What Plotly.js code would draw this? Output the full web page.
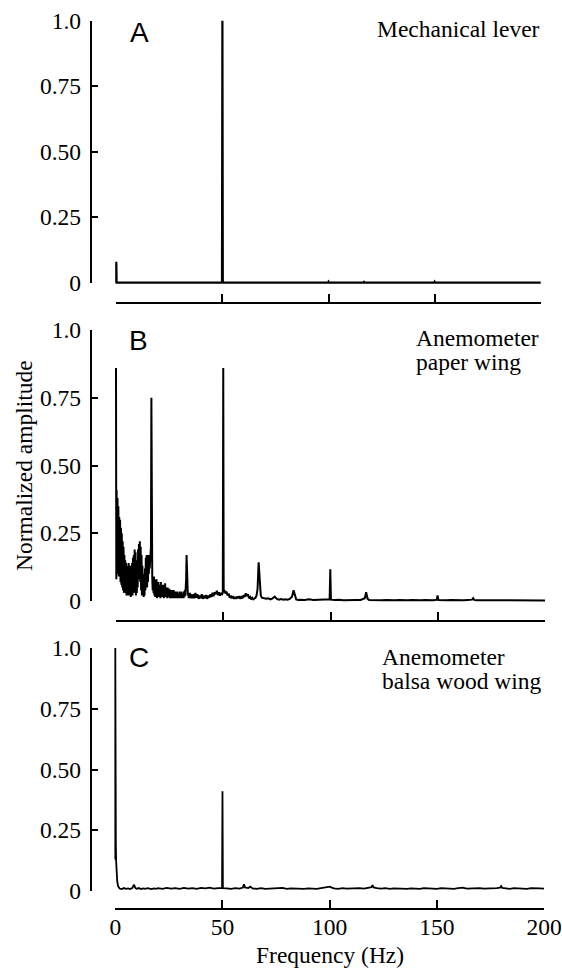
<!DOCTYPE html>
<html><head><meta charset="utf-8">
<script src="https://cdn.plot.ly/plotly-3.0.1.min.js"></script>
<style>html,body{margin:0;padding:0;background:#fff;} #chart{width:562px;height:968px;}</style>
</head><body><div id="chart"></div>
<script>
// ---------- DATA ----------
const freqA = [0, 0, 0.15, 49.8, 50, 50.2, 99.7, 100, 100.3, 116.4, 116.7, 117, 149.7, 150, 150.3, 200];
const ampA  = [0, 0.08, 0, 0, 1.0, 0, 0, 0.004, 0, 0, 0.003, 0, 0, 0.004, 0, 0];

const freqB = [
0,0.15,0.3,0.5,0.7,0.9,1.1,1.3,1.5,1.7,1.9,2.1,2.3,2.5,2.7,2.9,3.1,3.3,3.5,3.7,3.9,4.1,4.3,4.5,4.7,4.9,
5.1,5.3,5.5,5.7,5.9,6.1,6.3,6.5,6.7,6.9,7.1,7.3,7.5,7.7,7.9,8.1,8.3,8.5,8.7,8.9,9.1,9.3,9.5,9.7,9.9,
10.1,10.3,10.5,10.7,10.9,11.1,11.3,11.5,11.7,11.9,12.1,12.3,12.5,12.7,12.9,13.1,13.3,13.5,13.7,13.9,
14.1,14.3,14.5,14.7,14.9,15.1,15.3,15.5,15.7,15.9,16.1,16.3,16.5,16.7,16.9,17.1,17.3,
17.5,17.7,17.9,18.1,18.3,18.5,18.7,18.9,19.1,19.3,19.5,19.7,19.9,20.1,20.3,20.5,20.7,20.9,21.1,21.3,21.5,21.7,21.9,
22.1,22.3,22.5,22.7,22.9,23.1,23.3,23.5,23.7,23.9,24.1,24.3,24.5,24.7,24.9,25.1,25.3,25.5,25.7,25.9,
26.1,26.3,26.5,26.7,26.9,27.1,27.3,27.5,27.7,27.9,28.1,28.3,28.5,28.7,28.9,29.1,29.3,29.5,29.7,29.9,
30.1,30.3,30.5,30.7,30.9,31.1,31.3,31.5,31.7,31.9,32.1,32.3,32.5,32.7,32.9,33.1,33.3,33.5,33.7,33.9,
34.1,34.3,34.5,34.7,34.9,
35.5,36,36.5,37,37.5,38,38.5,39,39.5,40,40.5,41,41.5,42,42.5,43,43.5,44,44.5,45,45.5,46,46.5,47,47.5,48,48.5,49,49.5,
49.8,50,50.2,50.5,51,51.5,52,52.5,53,53.5,54,54.5,55,55.5,56,56.5,57,57.5,58,58.5,59,59.5,60,60.5,61,61.5,62,62.5,
63,63.5,64,64.5,65,65.5,66,66.5,67,67.5,68,
69,70,71,72,73,74,75,76,77,78,79,80,81,82,82.8,83.6,84,85,86,88,90,92,94,96,98,99.6,99.9,100.2,
102,104,106,108,110,112,114,116,116.6,117.3,118,120,122,124,126,128,130,132,134,136,138,140,142,144,146,148,
149.6,149.9,150.3,152,154,156,158,160,162,164,166,166.5,167,168,170,172,174,176,178,180,182,184,186,188,190,192,194,196,198,200];
const ampB = [
0.86,0.08,0.41,0.12,0.38,0.1,0.35,0.09,0.31,0.1,0.3,0.07,0.27,0.06,0.25,0.05,0.22,0.04,0.2,0.03,0.17,0.05,0.15,0.03,0.14,0.02,
0.13,0.04,0.12,0.02,0.14,0.03,0.11,0.02,0.13,0.015,0.12,0.03,0.14,0.02,0.16,0.04,0.17,0.03,0.19,0.06,0.18,0.02,0.12,0.03,0.15,
0.05,0.19,0.08,0.21,0.1,0.22,0.07,0.2,0.04,0.17,0.02,0.13,0.03,0.1,0.015,0.08,0.02,0.12,0.04,0.16,
0.08,0.17,0.05,0.15,0.07,0.17,0.1,0.15,0.12,0.18,0.14,0.2,0.75,0.16,0.09,0.04,0.08,
0.03,0.09,0.02,0.08,0.015,0.07,0.02,0.08,0.01,0.06,0.02,0.07,0.015,0.06,0.02,0.05,0.01,0.07,0.02,0.06,0.015,0.05,0.02,
0.06,0.01,0.05,0.02,0.065,0.015,0.05,0.02,0.045,0.01,0.05,0.015,0.04,0.02,0.045,0.01,0.04,0.015,0.035,0.01,
0.04,0.015,0.035,0.01,0.04,0.015,0.03,0.01,0.035,0.015,0.03,0.01,0.035,0.015,0.03,0.01,0.03,0.015,0.035,0.01,
0.03,0.015,0.035,0.01,0.03,0.015,0.03,0.01,0.035,0.015,0.04,0.02,0.05,0.08,0.17,0.1,0.03,0.02,0.03,0.01,
0.03,0.015,0.03,0.01,0.025,
0.01,0.025,0.01,0.03,0.012,0.025,0.008,0.02,0.01,0.025,0.008,0.02,0.01,0.022,0.008,0.02,0.012,0.025,0.015,0.03,0.018,0.032,0.025,0.038,0.022,0.032,0.02,0.03,0.025,
0.03,0.86,0.035,0.04,0.028,0.035,0.02,0.028,0.012,0.02,0.01,0.018,0.008,0.015,0.008,0.016,0.01,0.018,0.008,0.015,0.01,0.022,0.015,0.028,0.018,0.025,0.01,0.015,
0.006,0.012,0.006,0.01,0.012,0.02,0.045,0.143,0.05,0.02,0.012,
0.01,0.008,0.01,0.006,0.01,0.016,0.008,0.005,0.007,0.005,0.006,0.005,0.008,0.015,0.04,0.012,0.006,0.004,0.005,0.004,0.006,0.004,0.005,0.004,0.005,0.006,0.117,0.005,
0.004,0.005,0.003,0.004,0.003,0.004,0.004,0.01,0.032,0.008,0.004,0.003,0.004,0.003,0.004,0.003,0.003,0.004,0.003,0.003,0.004,0.003,0.003,0.004,0.003,0.003,
0.005,0.021,0.004,0.003,0.003,0.004,0.003,0.003,0.003,0.004,0.005,0.01,0.004,0.003,0.003,0.002,0.003,0.002,0.003,0.002,0.002,0.003,0.002,0.002,0.002,0.003,0.002,0.002,0.002,0.002];

const freqC = [0,0,0.12,0.25,0.4,0.6,0.9,1.3,2,3,4,5,6,7,8,8.7,9.4,10,11,12,13,14,15,16,17,18,19,20,22,24,26,28,30,32,34,36,38,40,42,44,46,48,
49.8,50,50.2,52,54,56,58,59.5,60,60.5,62,63,64,66,68,70,72,74,76,78,80,82,84,86,88,90,92,94,96,98,100,101,102,104,106,108,110,112,114,116,118,
119.5,120,120.5,122,124,126,128,130,132,134,136,138,140,142,144,146,148,150,152,154,156,158,160,162,164,166,168,170,172,174,176,178,
179.5,180,180.5,182,184,186,188,190,192,194,196,198,200];
const ampC = [0.13,1.0,0.13,0.2,0.12,0.07,0.04,0.02,0.01,0.008,0.012,0.009,0.011,0.008,0.013,0.026,0.012,0.009,0.012,0.008,0.011,0.009,0.012,0.01,0.008,0.011,0.009,0.012,0.009,0.013,0.01,0.012,0.009,0.013,0.01,0.012,0.009,0.013,0.011,0.014,0.01,0.012,
0.012,0.41,0.012,0.011,0.009,0.012,0.01,0.014,0.028,0.015,0.012,0.018,0.011,0.009,0.012,0.009,0.011,0.01,0.012,0.013,0.009,0.011,0.01,0.012,0.009,0.011,0.01,0.009,0.012,0.014,0.018,0.014,0.011,0.009,0.012,0.01,0.011,0.009,0.012,0.01,0.013,
0.016,0.024,0.015,0.012,0.01,0.012,0.009,0.011,0.01,0.012,0.009,0.011,0.01,0.009,0.012,0.01,0.011,0.009,0.012,0.01,0.011,0.009,0.012,0.014,0.01,0.011,0.009,0.012,0.01,0.011,0.009,0.012,
0.014,0.02,0.013,0.011,0.009,0.012,0.01,0.011,0.009,0.012,0.01,0.011,0.01];

const yTickVals = [0, 0.25, 0.5, 0.75, 1];
const yTickText = ['0', '0.25', '0.50', '0.75', '1.0'];
const xTickVals = [0, 50, 100, 150, 200];
const xTickText = ['0', '50', '100', '150', '200'];
const panelLetters = ['A', 'B', 'C'];
const panelNotes = [['Mechanical lever'], ['Anemometer', 'paper wing'], ['Anemometer', 'balsa wood wing']];
const yTitle = 'Normalized amplitude';
const xTitle = 'Frequency (Hz)';

// ---------- LAYOUT ----------
const W = 562, H = 968;
const SERIF = 'Liberation Serif';
const SANS = 'Liberation Sans';
const FS = 23.5;
const geo = [
  {x0:116.3, x1:540.7, yT:20.7, yB:282.7, spine:90.7, xAx:302.7, lw:2.2},
  {x0:116,   x1:545,   yT:330,  yB:601,   spine:90.7, xAx:620.7, lw:2},
  {x0:115.3, x1:544,   yT:648,  yB:891,   spine:90.7, xAx:909,   lw:1.8}
];
const series = [[freqA, ampA], [freqB, ampB], [freqC, ampC]];
const PAD = 8;
const id = (k) => (k === 1 ? '' : String(k));

const data = [];
const layout = {
  width: W, height: H,
  margin: {l:0, r:0, t:0, b:0, pad:0},
  paper_bgcolor: '#fff', plot_bgcolor: 'rgba(0,0,0,0)',
  showlegend: false,
  font: {family: SERIF, size: FS, color: '#000'},
  annotations: []
};

geo.forEach((g, i) => {
  const n = i + 1, m = i + 4;
  const kx = (g.x1 - g.x0) / 200;
  const ky = (g.yB - g.yT);
  // data axes (hidden, padded so lines at the edges are not clipped)
  layout['xaxis' + id(n)] = {
    visible: false, domain: [(g.x0 - PAD) / W, (g.x1 + PAD) / W],
    range: [-PAD / kx, 200 + PAD / kx], anchor: 'y' + id(n), fixedrange: true
  };
  layout['yaxis' + id(n)] = {
    visible: false, domain: [1 - (g.yB + PAD) / H, 1 - (g.yT - PAD) / H],
    range: [-PAD / ky, 1 + PAD / ky], anchor: 'x' + id(n), fixedrange: true
  };
  // display axes, detached from the data like in the figure
  layout['xaxis' + m] = {
    domain: [g.x0 / W, g.x1 / W], range: [0, 200], anchor: 'free', position: 1 - g.xAx / H,
    showline: true, linewidth: 2, linecolor: '#000', showgrid: false, zeroline: false,
    ticks: 'inside', ticklen: 8, tickwidth: 2, tickcolor: '#000',
    tickmode: 'array', tickvals: xTickVals, ticktext: xTickText, ticklabelstandoff: -3,
    showticklabels: i === 2, tickfont: {family: SERIF, size: FS, color: '#000'}, fixedrange: true
  };
  layout['yaxis' + m] = {
    domain: [1 - g.yB / H, 1 - g.yT / H], range: [0, 1], anchor: 'free', position: g.spine / W,
    showline: true, linewidth: 2, linecolor: '#000', showgrid: false, zeroline: false,
    ticks: 'inside', ticklen: 6, tickwidth: 2, tickcolor: '#000',
    tickmode: 'array', tickvals: yTickVals, ticktext: yTickText, ticklabelstandoff: 4,
    tickfont: {family: SERIF, size: FS, color: '#000'}, fixedrange: true
  };
  data.push({
    x: series[i][0], y: series[i][1], type: 'scatter', mode: 'lines',
    line: {color: '#000', width: g.lw}, hoverinfo: 'skip',
    xaxis: 'x' + id(n), yaxis: 'y' + id(n)
  });
  data.push({x: [], y: [], type: 'scatter', mode: 'lines', xaxis: 'x' + m, yaxis: 'y' + m, hoverinfo: 'skip'});
});

// panel letters
const letterPos = [{x:127.5, y:32}, {x:127, y:340}, {x:127, y:657}];
panelLetters.forEach((t, i) => layout.annotations.push({
  text: t, xref: 'paper', yref: 'paper', x: letterPos[i].x / W, y: 1 - letterPos[i].y / H,
  xanchor: 'left', yanchor: 'middle', showarrow: false, font: {family: SANS, size: 28, color: '#000'}
}));
// panel notes
const notePos = [
  [{x:541.5, y:29, a:'right'}],
  [{x:414, y:338, a:'left'}, {x:414, y:362, a:'left'}],
  [{x:380, y:656.5, a:'left'}, {x:380, y:680.5, a:'left'}]
];
panelNotes.forEach((lines, i) => lines.forEach((t, j) => layout.annotations.push({
  text: t, xref: 'paper', yref: 'paper', x: notePos[i][j].x / W, y: 1 - notePos[i][j].y / H,
  xanchor: notePos[i][j].a, yanchor: 'middle', showarrow: false, font: {family: SERIF, size: FS, color: '#000'}
})));
// axis titles
layout.annotations.push({
  text: yTitle, xref: 'paper', yref: 'paper', x: 24 / W, y: 1 - 466 / H, textangle: -90,
  xanchor: 'center', yanchor: 'middle', showarrow: false, font: {family: SERIF, size: FS, color: '#000'}
});
layout.annotations.push({
  text: xTitle, xref: 'paper', yref: 'paper', x: 330 / W, y: 1 - 955 / H,
  xanchor: 'center', yanchor: 'middle', showarrow: false, font: {family: SERIF, size: FS, color: '#000'}
});

Plotly.newPlot('chart', data, layout, {staticPlot: true, displayModeBar: false});
</script></body></html>
